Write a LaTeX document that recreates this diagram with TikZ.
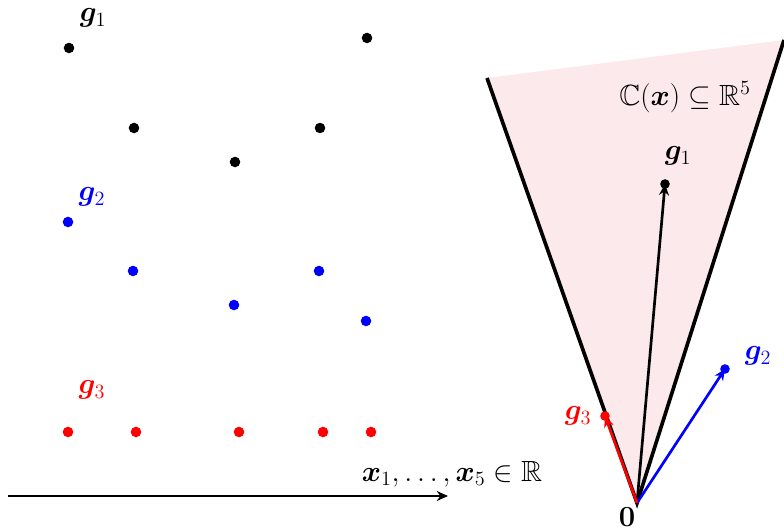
\documentclass[tikz,border=0pt]{standalone}
\usepackage{amsmath, amssymb}
\usepackage{bm}
\usepackage{tikz}
\usetikzlibrary{arrows.meta,calc,positioning}

\definecolor{conepink}{RGB}{252,233,236}

\begin{document}
\begin{tikzpicture}[
  dot/.style={circle,fill,inner sep=0pt,minimum size=7.5pt},
  lbl/.style={font=\huge},
  vec/.style={line width=1.9pt,-{Stealth[length=8pt,width=7pt]}},
  edge/.style={line width=2.6pt}
]
\useasboundingbox (0,0) rectangle (19.6,13.2);

% Samples g1
\foreach \x/\y [count=\i] in {1.725/12.0,3.35/10.0,5.875/9.15,8.0/10.0,9.175/12.25}
  \node[dot] (a\i) at (\x,\y) {};
\node[lbl] (la) at (2.325,12.75) {$\bm{g}_1$};

% Samples g2
\foreach \x/\y [count=\i] in {1.7/7.65,3.325/6.425,5.85/5.575,7.975/6.425,9.15/5.175}
  \node[dot,blue] (b\i) at (\x,\y) {};
\node[lbl,blue] (lb) at (2.3,8.275) {$\bm{g}_2$};

% Samples g3
\foreach \x [count=\i] in {1.7,3.4,5.975,8.075,9.275}
  \node[dot,red] (c\i) at (\x,2.4) {};
\node[lbl,red] (lc) at (2.3,3.45) {$\bm{g}_3$};

% Input axis
\coordinate (ax0) at (0.2,0.8);
\coordinate (ax1) at (11.2,0.8);
\draw[line width=1.6pt,-{Stealth[length=8pt,width=7pt]}] (ax0) -- (ax1);
\node[lbl] (lx) at (11.3,1.35) {$\bm{x}_1,\dots,\bm{x}_5\in\mathbb{R}$};

% Cone
\coordinate (O) at (15.925,0.625);
\coordinate (L) at (12.175,11.25);
\coordinate (R) at (19.6,12.2);
\fill[conepink] (O) -- (L) -- (R) -- cycle;
\draw[edge] (L) -- (O) -- (R);
\node[lbl] (lcone) at (17.125,10.775) {$\mathbb{C}(\bm{x})\subseteq\mathbb{R}^5$};

% Vectors
\coordinate (G1) at (16.625,8.6);
\coordinate (G2) at (18.125,3.975);
\coordinate (G3) at (15.125,2.8);
\draw[vec] (O) -- (G1);
\fill (G1) circle (0.12);
\draw[vec,blue] (O) -- (G2);
\fill[blue] (G2) circle (0.12);
\draw[vec,red] (O) -- (G3);
\fill[red] (G3) circle (0.12);
\node[lbl] (lg1) at (16.95,9.3) {$\bm{g}_1$};
\node[lbl,blue] (lg2) at (18.95,4.3) {$\bm{g}_2$};
\node[lbl,red] (lg3) at (14.45,2.8) {$\bm{g}_3$};
\node[lbl] (lO) at (15.675,0.27) {$\mathbf{0}$};
\end{tikzpicture}
\end{document}
